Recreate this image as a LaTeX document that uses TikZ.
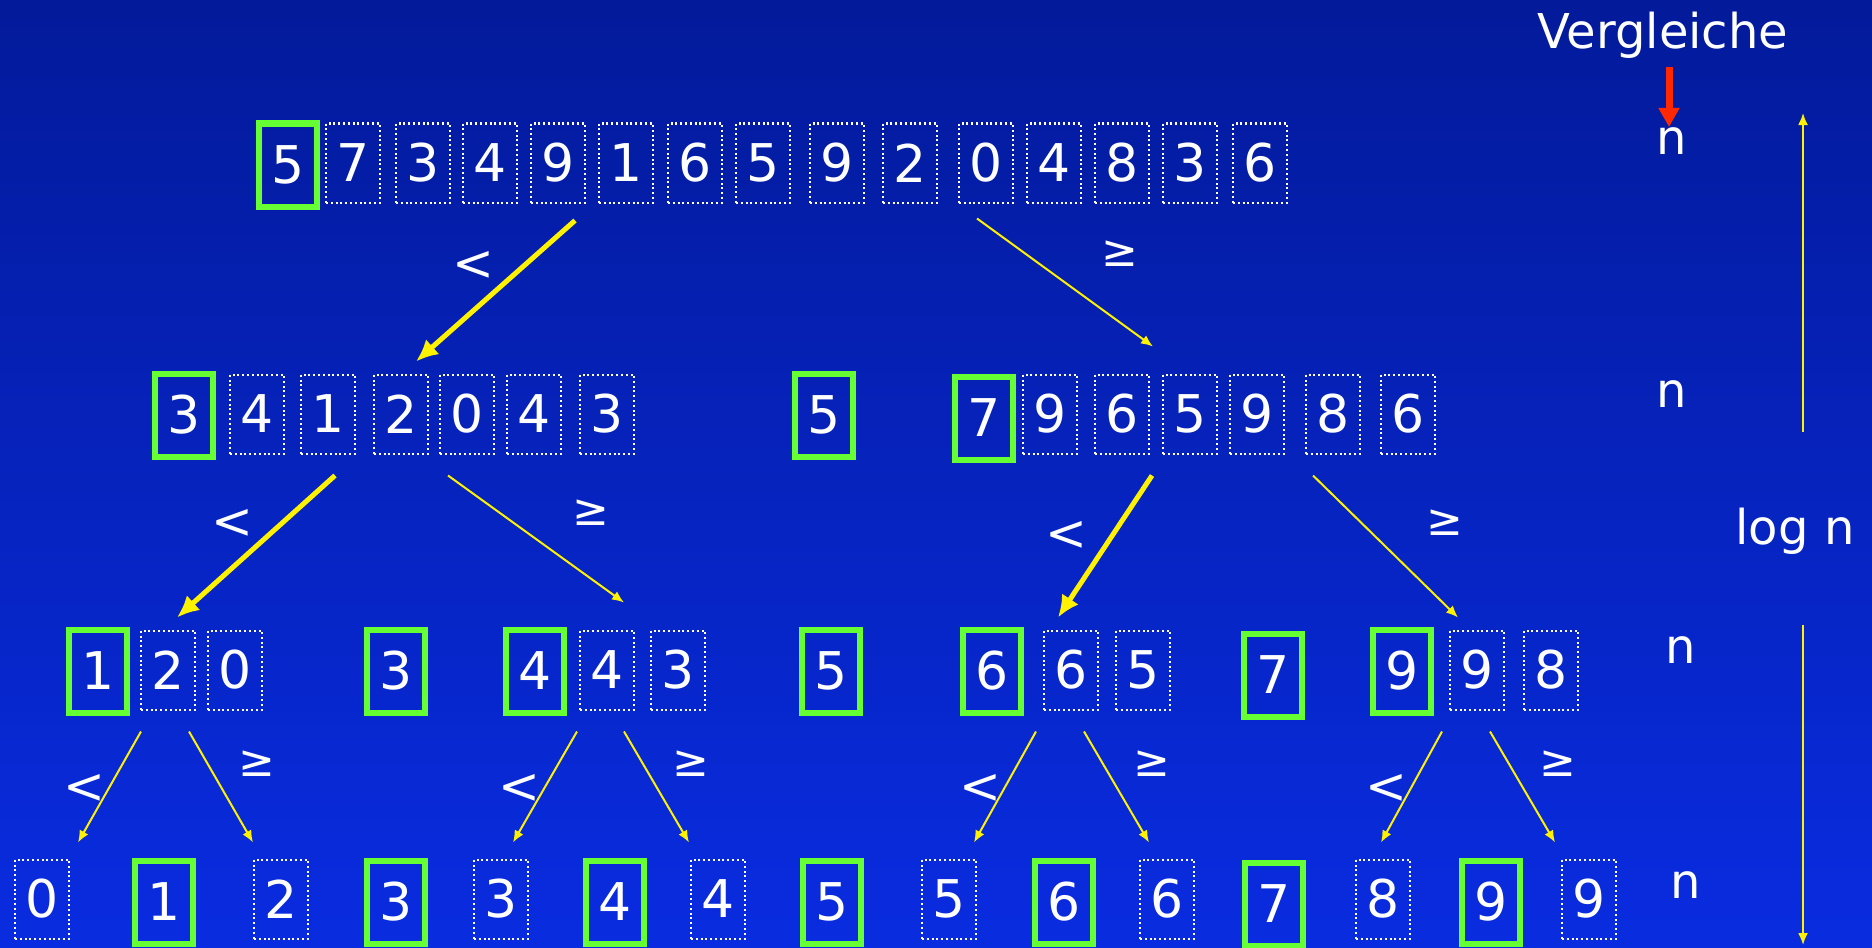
\documentclass[tikz,border=0pt]{standalone}
\usepackage{fontspec}
\setmainfont{DejaVu Sans}
\usetikzlibrary{arrows.meta, positioning, calc}

\definecolor{bgtop}{RGB}{3,26,154}
\definecolor{bgbot}{RGB}{9,44,224}
\definecolor{pivgreen}{RGB}{102,255,51}
\definecolor{cmpred}{RGB}{255,40,0}

\begin{document}
\begin{tikzpicture}[
    x=0.5pt, y=-0.5pt,
    cell/.style={draw=white, line width=1pt, dash pattern=on 1pt off 1.4pt,
                 minimum width=27pt, minimum height=39.5pt, inner sep=0pt,
                 text=white, font=\fontsize{26}{30}\selectfont},
    pivot/.style={cell, draw=pivgreen, line width=3pt, solid,
                  minimum width=29pt, minimum height=41.5pt},
    split/.style={draw=yellow, line width=2.5pt,
                  -{Latex[length=11pt, width=10pt]}},
    part/.style={draw=yellow, line width=1pt,
                 -{Latex[length=6pt, width=5pt]}},
    cmp/.style={text=white, font=\fontsize{22}{26}\selectfont},
    lab/.style={text=white, font=\fontsize{24}{28}\selectfont, anchor=base}
  ]
  \useasboundingbox (0,0) rectangle (1872,947);
  \shade[top color=bgtop, bottom color=bgbot] (0,0) rectangle (1872,947);

  % input array, pivot 5
  \node[pivot] (t1) at (288,165) {5};
  \node[cell] (t2) at (353,163) {7};
  \node[cell] (t3) at (423,163) {3};
  \node[cell] (t4) at (490,163) {4};
  \node[cell] (t5) at (558,163) {9};
  \node[cell] (t6) at (626,163) {1};
  \node[cell] (t7) at (695,163) {6};
  \node[cell] (t8) at (763,163) {5};
  \node[cell] (t9) at (837,163) {9};
  \node[cell] (t10) at (910,163) {2};
  \node[cell] (t11) at (986,163) {0};
  \node[cell] (t12) at (1054,163) {4};
  \node[cell] (t13) at (1122,163) {8};
  \node[cell] (t14) at (1190,163) {3};
  \node[cell] (t15) at (1260,163) {6};

  % second level
  \node[pivot] (m1) at (184,415) {3};
  \node[cell] (m2) at (257,414) {4};
  \node[cell] (m3) at (328,414) {1};
  \node[cell] (m4) at (401,414) {2};
  \node[cell] (m5) at (467,414) {0};
  \node[cell] (m6) at (534,414) {4};
  \node[cell] (m7) at (607,414) {3};
  \node[pivot] (p1) at (824,415) {5};
  \node[pivot] (n1) at (984,418) {7};
  \node[cell] (n2) at (1050,414) {9};
  \node[cell] (n3) at (1122,414) {6};
  \node[cell] (n4) at (1190,414) {5};
  \node[cell] (n5) at (1257,414) {9};
  \node[cell] (n6) at (1333,414) {8};
  \node[cell] (n7) at (1408,414) {6};

  % third level
  \node[pivot] (a1) at (98,671) {1};
  \node[cell] (a2) at (168,670) {2};
  \node[cell] (a3) at (235,670) {0};
  \node[pivot] (a4) at (396,671) {3};
  \node[pivot] (b1) at (535,671) {4};
  \node[cell] (b2) at (607,670) {4};
  \node[cell] (b3) at (678,670) {3};
  \node[pivot] (c1) at (831,671) {5};
  \node[pivot] (d1) at (992,671) {6};
  \node[cell] (d2) at (1071,670) {6};
  \node[cell] (d3) at (1143,670) {5};
  \node[pivot] (e1) at (1273,675) {7};
  \node[pivot] (f1) at (1402,671) {9};
  \node[cell] (f2) at (1477,670) {9};
  \node[cell] (f3) at (1551,670) {8};

  % sorted
  \node[cell] (s1) at (42,899) {0};
  \node[pivot] (s2) at (164,902) {1};
  \node[cell] (s3) at (281,899) {2};
  \node[pivot] (s4) at (396,902) {3};
  \node[cell] (s5) at (501,899) {3};
  \node[pivot] (s6) at (615,902) {4};
  \node[cell] (s7) at (718,899) {4};
  \node[pivot] (s8) at (832,902) {5};
  \node[cell] (s9) at (949,899) {5};
  \node[pivot] (s10) at (1064,902) {6};
  \node[cell] (s11) at (1167,899) {6};
  \node[pivot] (s12) at (1274,904) {7};
  \node[cell] (s13) at (1383,899) {8};
  \node[pivot] (s14) at (1491,902) {9};
  \node[cell] (s15) at (1589,899) {9};

  % partition arrows
  \draw[split] ($(t5.south)+(17,17)$) -- ($(m4.north)+(15,-12)$);
  \draw[part] ($(t11.south)+(-9,15)$) -- ($(n3.north)+(31,-27)$);
  \draw[split] ($(m3.south)+(7,21)$) -- ($(a2.north)+(9,-12)$);
  \draw[part] ($(m5.south)+(-19,21)$) -- ($(b2.north)+(17,-27)$);
  \draw[split] ($(n3.south)+(30,21)$) -- ($(d2.north)+(-13,-12)$);
  \draw[part] ($(n6.south)+(-20,21)$) -- ($(f2.north)+(-19,-12)$);

  \draw[part] ($(a2.south)+(-27,21)$) -- ($(s1.north)+(36,-16)$);
  \draw[part] ($(a2.south)+(21,21)$) -- ($(s3.north)+(-28,-16)$);
  \draw[part] ($(b2.south)+(-30,21)$) -- ($(s5.north)+(12,-16)$);
  \draw[part] ($(b2.south)+(17,21)$) -- ($(s7.north)+(-29,-16)$);
  \draw[part] ($(d2.south)+(-35,21)$) -- ($(s9.north)+(25,-16)$);
  \draw[part] ($(d2.south)+(13,21)$) -- ($(s11.north)+(-18,-16)$);
  \draw[part] ($(f2.south)+(-35,21)$) -- ($(s13.north)+(-2,-16)$);
  \draw[part] ($(f2.south)+(13,21)$) -- ($(s15.north)+(-34,-16)$);

  % comparison labels
  \node[cmp, font=\fontsize{25}{28}\selectfont] (lt1) at (473,266) {<};
  \node[cmp] (ge1) at (1120,254) {≥};
  \node[cmp, font=\fontsize{25}{28}\selectfont] (lt2) at (232,524) {<};
  \node[cmp] (ge2) at (591,513) {≥};
  \node[cmp, font=\fontsize{25}{28}\selectfont] (lt3) at (1066,536) {<};
  \node[cmp] (ge3) at (1445,523) {≥};
  \node[cmp, font=\fontsize{25}{28}\selectfont] (lt4) at (84,789) {<};
  \node[cmp] (ge4) at (257,764) {≥};
  \node[cmp, font=\fontsize{25}{28}\selectfont] (lt5) at (519,789) {<};
  \node[cmp] (ge5) at (691,764) {≥};
  \node[cmp, font=\fontsize{25}{28}\selectfont] (lt6) at (980,789) {<};
  \node[cmp] (ge6) at (1152,764) {≥};
  \node[cmp, font=\fontsize{25}{28}\selectfont] (lt7) at (1386,789) {<};
  \node[cmp] (ge7) at (1558,764) {≥};

  % cost per level
  \node[lab] (vgl) at (1663,49) {Vergleiche};
  \node[lab] (cnt1) at (1672,155) {n};
  \node[lab] (cnt2) at (1672,407) {n};
  \node[lab] (cnt3) at (1681,663) {n};
  \node[lab] (cnt4) at (1686,898) {n};
  \node[lab] (logn) at (1795,544) {log n};
  \draw[draw=cmpred, line width=3.5pt, -{Triangle[length=9.5pt, width=10pt]}]
    ($(vgl.base)+(6,18)$) -- ($(cnt1.base)+(-3,-28)$);
  \draw[part] ($(logn.base)+(8,-112)$) -- ($(logn.base)+(8,-431)$);
  \draw[part] ($(logn.base)+(8,81)$) -- ($(logn.base)+(8,401)$);
\end{tikzpicture}
\end{document}
